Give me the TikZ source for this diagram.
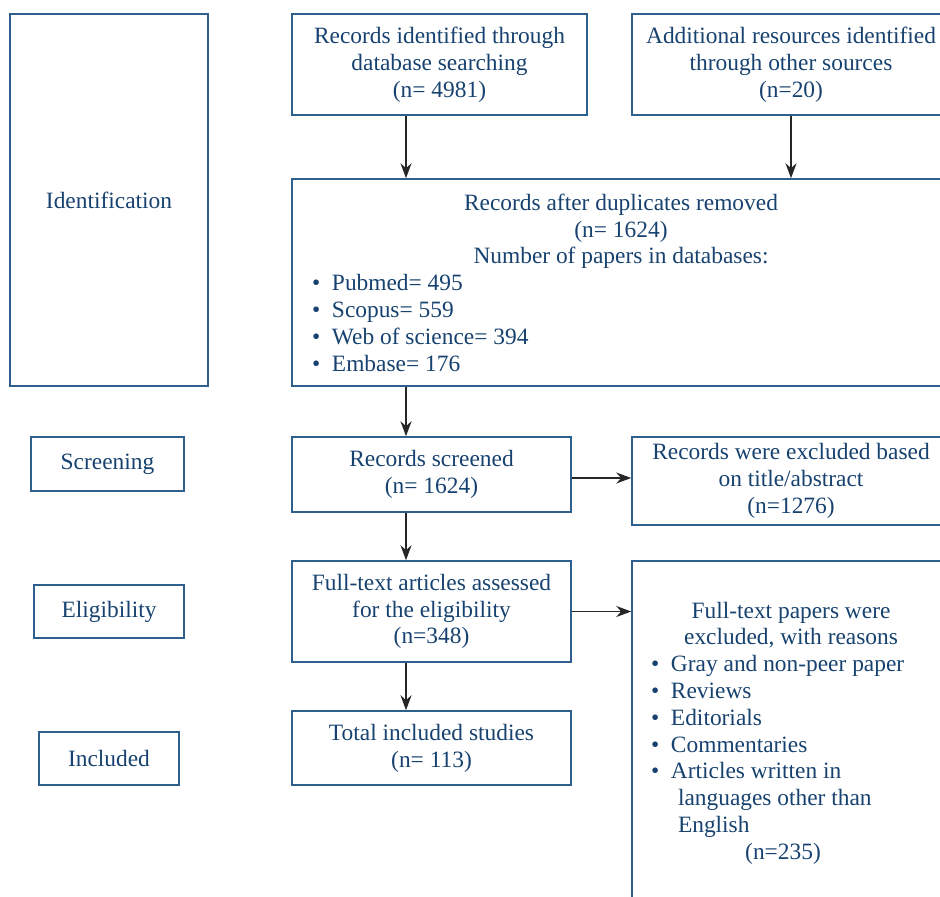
\documentclass[tikz,border=0pt]{standalone}
\usepackage{fontspec}
\setmainfont{Liberation Serif}
\usepackage{xcolor}
\usetikzlibrary{positioning,arrows.meta}
\definecolor{prisink}{HTML}{17426F}
\definecolor{prisline}{HTML}{2F5F8E}
\definecolor{prisarrow}{HTML}{262626}
\newcommand{\bul}{\makebox[10pt][l]{\textbullet}}
\tikzset{
  box/.style  ={draw=prisline,line width=0.75pt,text=prisink,align=center,inner sep=0pt,
                font=\fontsize{11.7}{13.4}\selectfont},
  phase/.style={box},
  listbox/.style={box,align=left,inner xsep=10pt},
  arr/.style  ={-{Stealth[length=7.5pt,width=5.5pt]},line width=0.8pt,draw=prisarrow},
}
\begin{document}
\begin{tikzpicture}[x=0.5pt,y=-0.5pt]
  \useasboundingbox (0,0) rectangle (940,897);
  \clip (0,0) rectangle (940,897);

  % phase labels on the left
  \node[phase, minimum width=99pt, minimum height=186pt] (ident) at (109,200) {Identification};
  \node[phase, minimum width=76.5pt, minimum height=27pt] (scrlab) at (107.5,464) {Screening};
  \node[phase, minimum width=75pt, minimum height=26.5pt] (eliglab) at (109,611.5) {Eligibility};
  \node[phase, minimum width=70pt, minimum height=26.5pt] (incllab) at (109,758.5) {Included};

  % main column
  \node[box, minimum width=147.5pt, minimum height=50.5pt] (rec) at (439.5,64.5)
    {Records identified through\\database searching\\(n= 4981)};
  \node[box, minimum width=159pt, minimum height=50.5pt] (addl) at (791,64.5)
    {Additional resources identified\\through other sources\\(n=20)};
  \node[listbox, text width=309pt, minimum height=103.5pt] (dup) at (621,282.5)
    {\spaceskip=0pt\xspaceskip=0pt
     \centering Records after duplicates removed\\(n= 1624)\\Number of papers in databases:\par
     \raggedright\bul Pubmed= 495\\\bul Scopus= 559\\\bul Web of science= 394\\\bul Embase= 176\par};
  \node[box, minimum width=139.5pt, minimum height=37.5pt] (scr) at (431.5,474.5)
    {Records screened\\(n= 1624)};
  \node[box, minimum width=159pt, minimum height=44pt] (excl) at (791,481)
    {Records were excluded based\\on title/abstract\\(n=1276)};
  \node[box, minimum width=139.5pt, minimum height=50.5pt] (elig) at (431.5,611.5)
    {Full-text articles assessed\\for the eligibility\\(n=348)};
  \node[listbox, text width=140pt, inner xsep=9.5pt, minimum height=172pt] (ftexcl) at (791,733)
    {\spaceskip=0pt\xspaceskip=0pt
     \centering Full-text papers were\\excluded, with reasons\par
     \raggedright\bul Gray and non-peer paper\\\bul Reviews\\\bul Editorials\\\bul Commentaries\\
     \bul Articles written in\\\hspace*{13.5pt}languages other than\\\hspace*{13.5pt}English\par
     \centering\hspace*{-8pt}(n=235)\par};
  \node[box, minimum width=139.5pt, minimum height=37pt] (incl) at (431.5,748)
    {Total included studies\\(n= 113)};

  \coordinate (spine) at (406,0);

  \draw[arr] (rec.south -| spine) -- (dup.north -| spine);
  \draw[arr] (addl.south) -- (dup.north -| addl.south);
  \draw[arr] (dup.south -| spine) -- (scr.north -| spine);
  \draw[arr] (scr.south -| spine) -- (elig.north -| spine);
  \draw[arr] (elig.south -| spine) -- (incl.north -| spine);
  \draw[arr] ([yshift=-1.75pt]scr.east) -- ([yshift=-1.75pt]scr.east -| excl.west);
  \draw[arr] (elig.east) -- (elig.east -| ftexcl.west);
\end{tikzpicture}
\end{document}
